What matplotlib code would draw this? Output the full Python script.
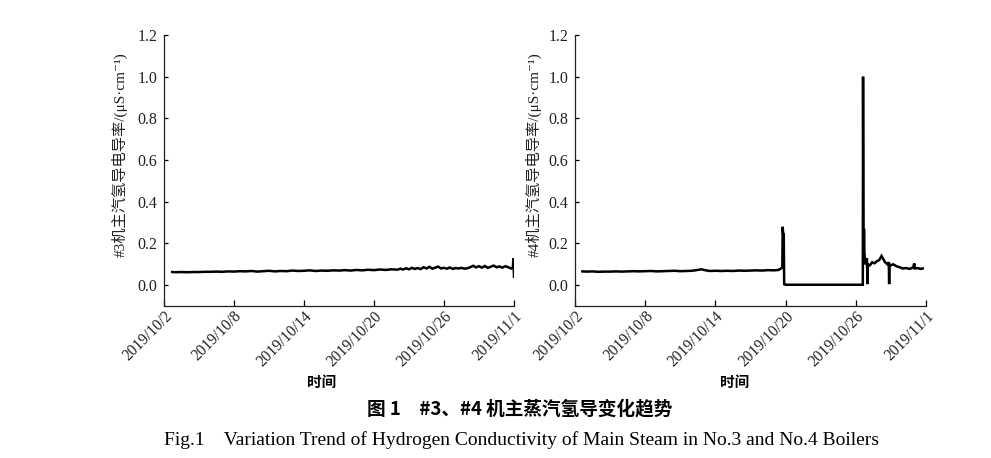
"""
Hydrogen conductivity of main steam, #3 and #4 boilers (Fig.1).
"""

import pandas as pd
import matplotlib
matplotlib.use("Agg")
import matplotlib.pyplot as plt

# ── Data (days after 2019-10-02 00:00, conductivity in μS/cm) ─────
START = pd.Timestamp("2019-10-02")

b3_days = [0.7, 1.0, 1.5, 2.0, 2.5, 3.0, 3.5, 4.0, 4.5, 5.0, 5.5, 6.0, 6.5,
           7.0, 7.5, 8.0, 8.5, 9.0, 9.5, 10.0, 10.5, 11.0, 11.5, 12.0, 12.5,
           13.0, 13.5, 14.0, 14.5, 15.0, 15.5, 16.0, 16.5, 17.0, 17.5, 18.0,
           18.5, 19.0, 19.5, 20.0, 20.25, 20.5, 20.75, 21.0, 21.25, 21.5,
           21.75, 22.0, 22.25, 22.5, 22.75, 23.0, 23.25, 23.5, 23.75, 24.0,
           24.25, 24.5, 24.75, 25.0, 25.25, 25.5, 25.75, 26.0, 26.25, 26.5,
           26.75, 27.0, 27.25, 27.5, 27.75, 28.0, 28.25, 28.5, 28.75, 29.0,
           29.25, 29.5, 29.75, 29.9, 29.95, 30.0]
b3_vals = [0.063, 0.062, 0.063, 0.062, 0.063, 0.063, 0.064, 0.064, 0.065,
           0.064, 0.066, 0.065, 0.067, 0.066, 0.068, 0.065, 0.067, 0.069,
           0.066, 0.068, 0.067, 0.070, 0.068, 0.069, 0.071, 0.068, 0.070,
           0.069, 0.071, 0.070, 0.072, 0.070, 0.073, 0.071, 0.074, 0.072,
           0.075, 0.073, 0.076, 0.074, 0.079, 0.075, 0.081, 0.076, 0.083,
           0.078, 0.082, 0.077, 0.086, 0.080, 0.088, 0.079, 0.084, 0.089,
           0.080, 0.083, 0.079, 0.085, 0.078, 0.082, 0.080, 0.083, 0.079,
           0.081, 0.086, 0.093, 0.085, 0.091, 0.084, 0.092, 0.083, 0.088,
           0.094, 0.086, 0.090, 0.084, 0.091, 0.086, 0.080, 0.084, 0.130,
           0.040]

b4_days = [0.63, 1.0, 1.5, 2.0, 2.5, 3.0, 3.5, 4.0, 4.5, 5.0, 5.5, 6.0, 6.5,
           7.0, 7.5, 8.0, 8.5, 9.0, 9.5, 10.0, 10.5, 10.8, 11.1, 11.5, 12.0,
           12.5, 13.0, 13.5, 14.0, 14.5, 15.0, 15.5, 16.0, 16.5, 17.0, 17.4,
           17.6, 17.72, 17.75, 17.8, 17.84, 17.88, 17.9, 24.6, 24.62, 24.66,
           24.7, 24.74, 24.8, 24.9, 24.95, 25.0, 25.03, 25.2, 25.4, 25.6,
           25.8, 26.0, 26.2, 26.35, 26.5, 26.7, 26.82, 26.85, 26.88, 27.0,
           27.2, 27.5, 27.8, 28.0, 28.3, 28.6, 28.9, 29.0, 29.05, 29.3, 29.5,
           29.72]
b4_vals = [0.066, 0.065, 0.066, 0.064, 0.065, 0.065, 0.066, 0.065, 0.066,
           0.067, 0.066, 0.067, 0.068, 0.066, 0.067, 0.068, 0.069, 0.067,
           0.068, 0.069, 0.073, 0.076, 0.072, 0.068, 0.069, 0.068, 0.069,
           0.068, 0.070, 0.069, 0.070, 0.071, 0.070, 0.072, 0.071, 0.073,
           0.080, 0.085, 0.280, 0.240, 0.250, 0.000, 0.002, 0.002, 1.000,
           0.100, 0.270, 0.150, 0.120, 0.100, 0.130, 0.005, 0.100, 0.095,
           0.110, 0.105, 0.115, 0.120, 0.140, 0.125, 0.110, 0.100, 0.110,
           0.005, 0.100, 0.095, 0.100, 0.090, 0.085, 0.080, 0.082, 0.078,
           0.085, 0.105, 0.080, 0.082, 0.078, 0.080]

tick_dates = ["2019-10-02", "2019-10-08", "2019-10-14",
              "2019-10-20", "2019-10-26", "2019-11-01"]
tick_labels = ["2019/10/2", "2019/10/8", "2019/10/14",
               "2019/10/20", "2019/10/26", "2019/11/1"]
y_ticks = [0.0, 0.2, 0.4, 0.6, 0.8, 1.0, 1.2]

ylabels = ["#3机主汽氢导电导率/(μS·cm⁻¹)", "#4机主汽氢导电导率/(μS·cm⁻¹)"]

SERIF = ["Liberation Serif", "DejaVu Serif", "Noto Sans CJK SC"]
CJK = ["Noto Sans CJK SC", "DejaVu Sans"]
INK = "#222222"

# ── Figure ────────────────────────────────────────────────────
fig = plt.figure(figsize=(9.91, 4.58), dpi=100)
ax3 = fig.add_axes([164 / 991, 1 - 306 / 458, 350 / 991, 271 / 458])
ax4 = fig.add_axes([575 / 991, 1 - 306 / 458, 351 / 991, 271 / 458])

series = [(ax3, b3_days, b3_vals), (ax4, b4_days, b4_vals)]
xlabel_x = [0.449, 0.456]
ylabel_x = [-0.103, -0.094]

for i, (ax, days, vals) in enumerate(series):
    t = START + pd.to_timedelta(days, unit="D")
    ax.plot(t, vals, color="black", linewidth=1.8, solid_joinstyle="miter")

    ax.set_xlim(pd.Timestamp("2019-10-02"), pd.Timestamp("2019-11-01"))
    ax.set_ylim(-0.1, 1.2)
    ax.set_xticks(pd.to_datetime(tick_dates))
    ax.set_xticklabels(tick_labels, rotation=45, ha="right",
                       rotation_mode="anchor", family=SERIF, fontsize=11.2,
                       color=INK)
    ax.set_yticks(y_ticks)
    ax.set_yticklabels([f"{v:.1f}" for v in y_ticks], family=SERIF,
                       fontsize=11.5, color=INK)

    for side in ["top", "right"]:
        ax.spines[side].set_visible(False)
    for side in ["left", "bottom"]:
        ax.spines[side].set_color(INK)
        ax.spines[side].set_linewidth(0.9)
    ax.tick_params(axis="x", direction="in", length=4, width=0.9, pad=1.5)
    ax.tick_params(axis="y", direction="in", length=3, width=0.9, pad=5)

    ax.set_ylabel(ylabels[i], family=SERIF, fontsize=11, color=INK)
    ax.yaxis.set_label_coords(ylabel_x[i], 0.557)
    ax.set_xlabel("时间", family=CJK, fontsize=10.5, fontweight="bold")
    ax.xaxis.set_label_coords(xlabel_x[i], -0.251)

# ── Captions ──────────────────────────────────────────────────
fig.text(520 / 991, 1 - 409 / 458, "图 1　#3、#4 机主蒸汽氢导变化趋势",
         family=CJK, fontsize=13.4, fontweight="bold", ha="center",
         va="center")
fig.text(521 / 991, 1 - 440 / 458,
         "Fig.1    Variation Trend of Hydrogen Conductivity of Main Steam "
         "in No.3 and No.4 Boilers",
         family=SERIF, fontsize=14, ha="center", va="center")

fig.savefig("out.png", dpi=100)
